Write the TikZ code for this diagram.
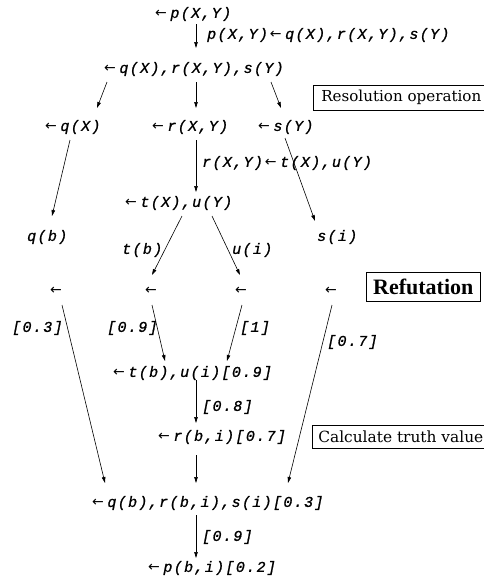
\documentclass[tikz,border=0pt]{standalone}
\usepackage{fontspec}
\usepackage{graphicx}
\usetikzlibrary{arrows.meta}
\newfontfamily\codefont{Liberation Mono}[LetterSpace=9,FakeBold=1]
\newfontfamily\arrfont{DejaVu Sans}
\newfontfamily\timesfont{Liberation Serif}
\newfontfamily\boxfont{DejaVu Serif}
\newcommand\la{{\arrfont\fontsize{14}{15}\selectfont ←}\hspace{3.5pt}}
\begin{document}
\begin{tikzpicture}[x=1pt,y=-1pt,
  term/.style={anchor=west,inner sep=0pt,font=\codefont\itshape\fontsize{15}{16}\selectfont},
  conn/.style={line width=0.6pt,-{Triangle[length=6pt,width=3.5pt]}},
  tagbox/.style={draw,line width=0.6pt,anchor=north west,inner sep=0pt,font=\boxfont\fontsize{14}{16}\selectfont}]
\useasboundingbox[fill=white] (0,0) rectangle (483,582);
% terms
\node[term] (n1) at (155,14) {\la p(X,Y)};
\node[term] (lab1) at (207,35) {p(X,Y)\hspace{2pt}\la q(X),r(X,Y),s(Y)};
\node[term] (n2) at (104,69) {\la q(X),r(X,Y),s(Y)};
\node[term] (qX) at (45,127) {\la q(X)};
\node[term] (rXY) at (152,127) {\la r(X,Y)};
\node[term] (sY) at (258,127) {\la s(Y)};
\node[term] (lab2) at (202,163) {r(X,Y)\hspace{2pt}\la t(X),u(Y)};
\node[term] (n4) at (125,203) {\la t(X),u(Y)};
\node[term] (qb) at (27,237) {q(b)};
\node[term] (si) at (317,237) {s(i)};
\node[term] (tb) at (122,250) {t(b)};
\node[term] (ui) at (232,250) {u(i)};
\node[term] (a1) at (50,291) {\la};
\node[term] (a2) at (145,291) {\la};
\node[term] (a3) at (235,291) {\la};
\node[term] (a4) at (325,291) {\la};
\node[term] (w1) at (12,328) {[0.3]};
\node[term] (w2) at (107,328) {[0.9]};
\node[term] (w3) at (240,328) {[1]};
\node[term] (w4) at (327,342) {[0.7]};
\node[term] (n6) at (113,373) {\la t(b),u(i)[0.9]};
\node[term] (w5) at (202,407) {[0.8]};
\node[term] (n7) at (158,437) {\la r(b,i)[0.7]};
\node[term] (n8) at (92,503) {\la q(b),r(b,i),s(i)[0.3]};
\node[term] (w6) at (202,537) {[0.9]};
\node[term] (n9) at (148,568) {\la p(b,i)[0.2]};
% boxes
\node[tagbox,minimum width=172pt,minimum height=25pt] (resop) at (313,85) {\makebox[172pt][l]{\hspace*{8pt}\resizebox{160pt}{!}{Resolution operation}}};
\node[tagbox,minimum width=114pt,minimum height=29pt,font=\timesfont\bfseries\fontsize{22}{24}\selectfont] (refut) at (366,272) {Refutation};
\node[tagbox,minimum width=175pt,minimum height=23pt] (calc) at (312,425) {\makebox[175pt][l]{\hspace*{6pt}\resizebox{165pt}{!}{Calculate truth value}}};
% connector points
\coordinate (p1) at (196,24);  \coordinate (q1) at (196,48);
\coordinate (p2) at (107,82);  \coordinate (q2) at (97,108);
\coordinate (p3) at (196,82);  \coordinate (q3) at (196,108);
\coordinate (p4) at (271,82);  \coordinate (q4) at (281,108);
\coordinate (p5) at (70,140);  \coordinate (q5) at (52,216);
\coordinate (p6) at (196,140); \coordinate (q6) at (196,192);
\coordinate (p7) at (285,138); \coordinate (q7) at (315,221);
\coordinate (p8) at (182,216); \coordinate (q8) at (152,275);
\coordinate (p9) at (212,216); \coordinate (q9) at (240,275);
\coordinate (p10) at (62,305); \coordinate (q10) at (105,483);
\coordinate (p11) at (152,305); \coordinate (q11) at (165,361);
\coordinate (p12) at (242,305); \coordinate (q12) at (227,361);
\coordinate (p13) at (332,305); \coordinate (q13) at (288,483);
\coordinate (p14) at (196,380); \coordinate (q14) at (196,423);
\coordinate (p15) at (196,455); \coordinate (q15) at (196,483);
\coordinate (p16) at (196,515); \coordinate (q16) at (196,558);
\foreach \i in {1,...,16} \draw[conn] (p\i) -- (q\i);
\end{tikzpicture}
\end{document}
